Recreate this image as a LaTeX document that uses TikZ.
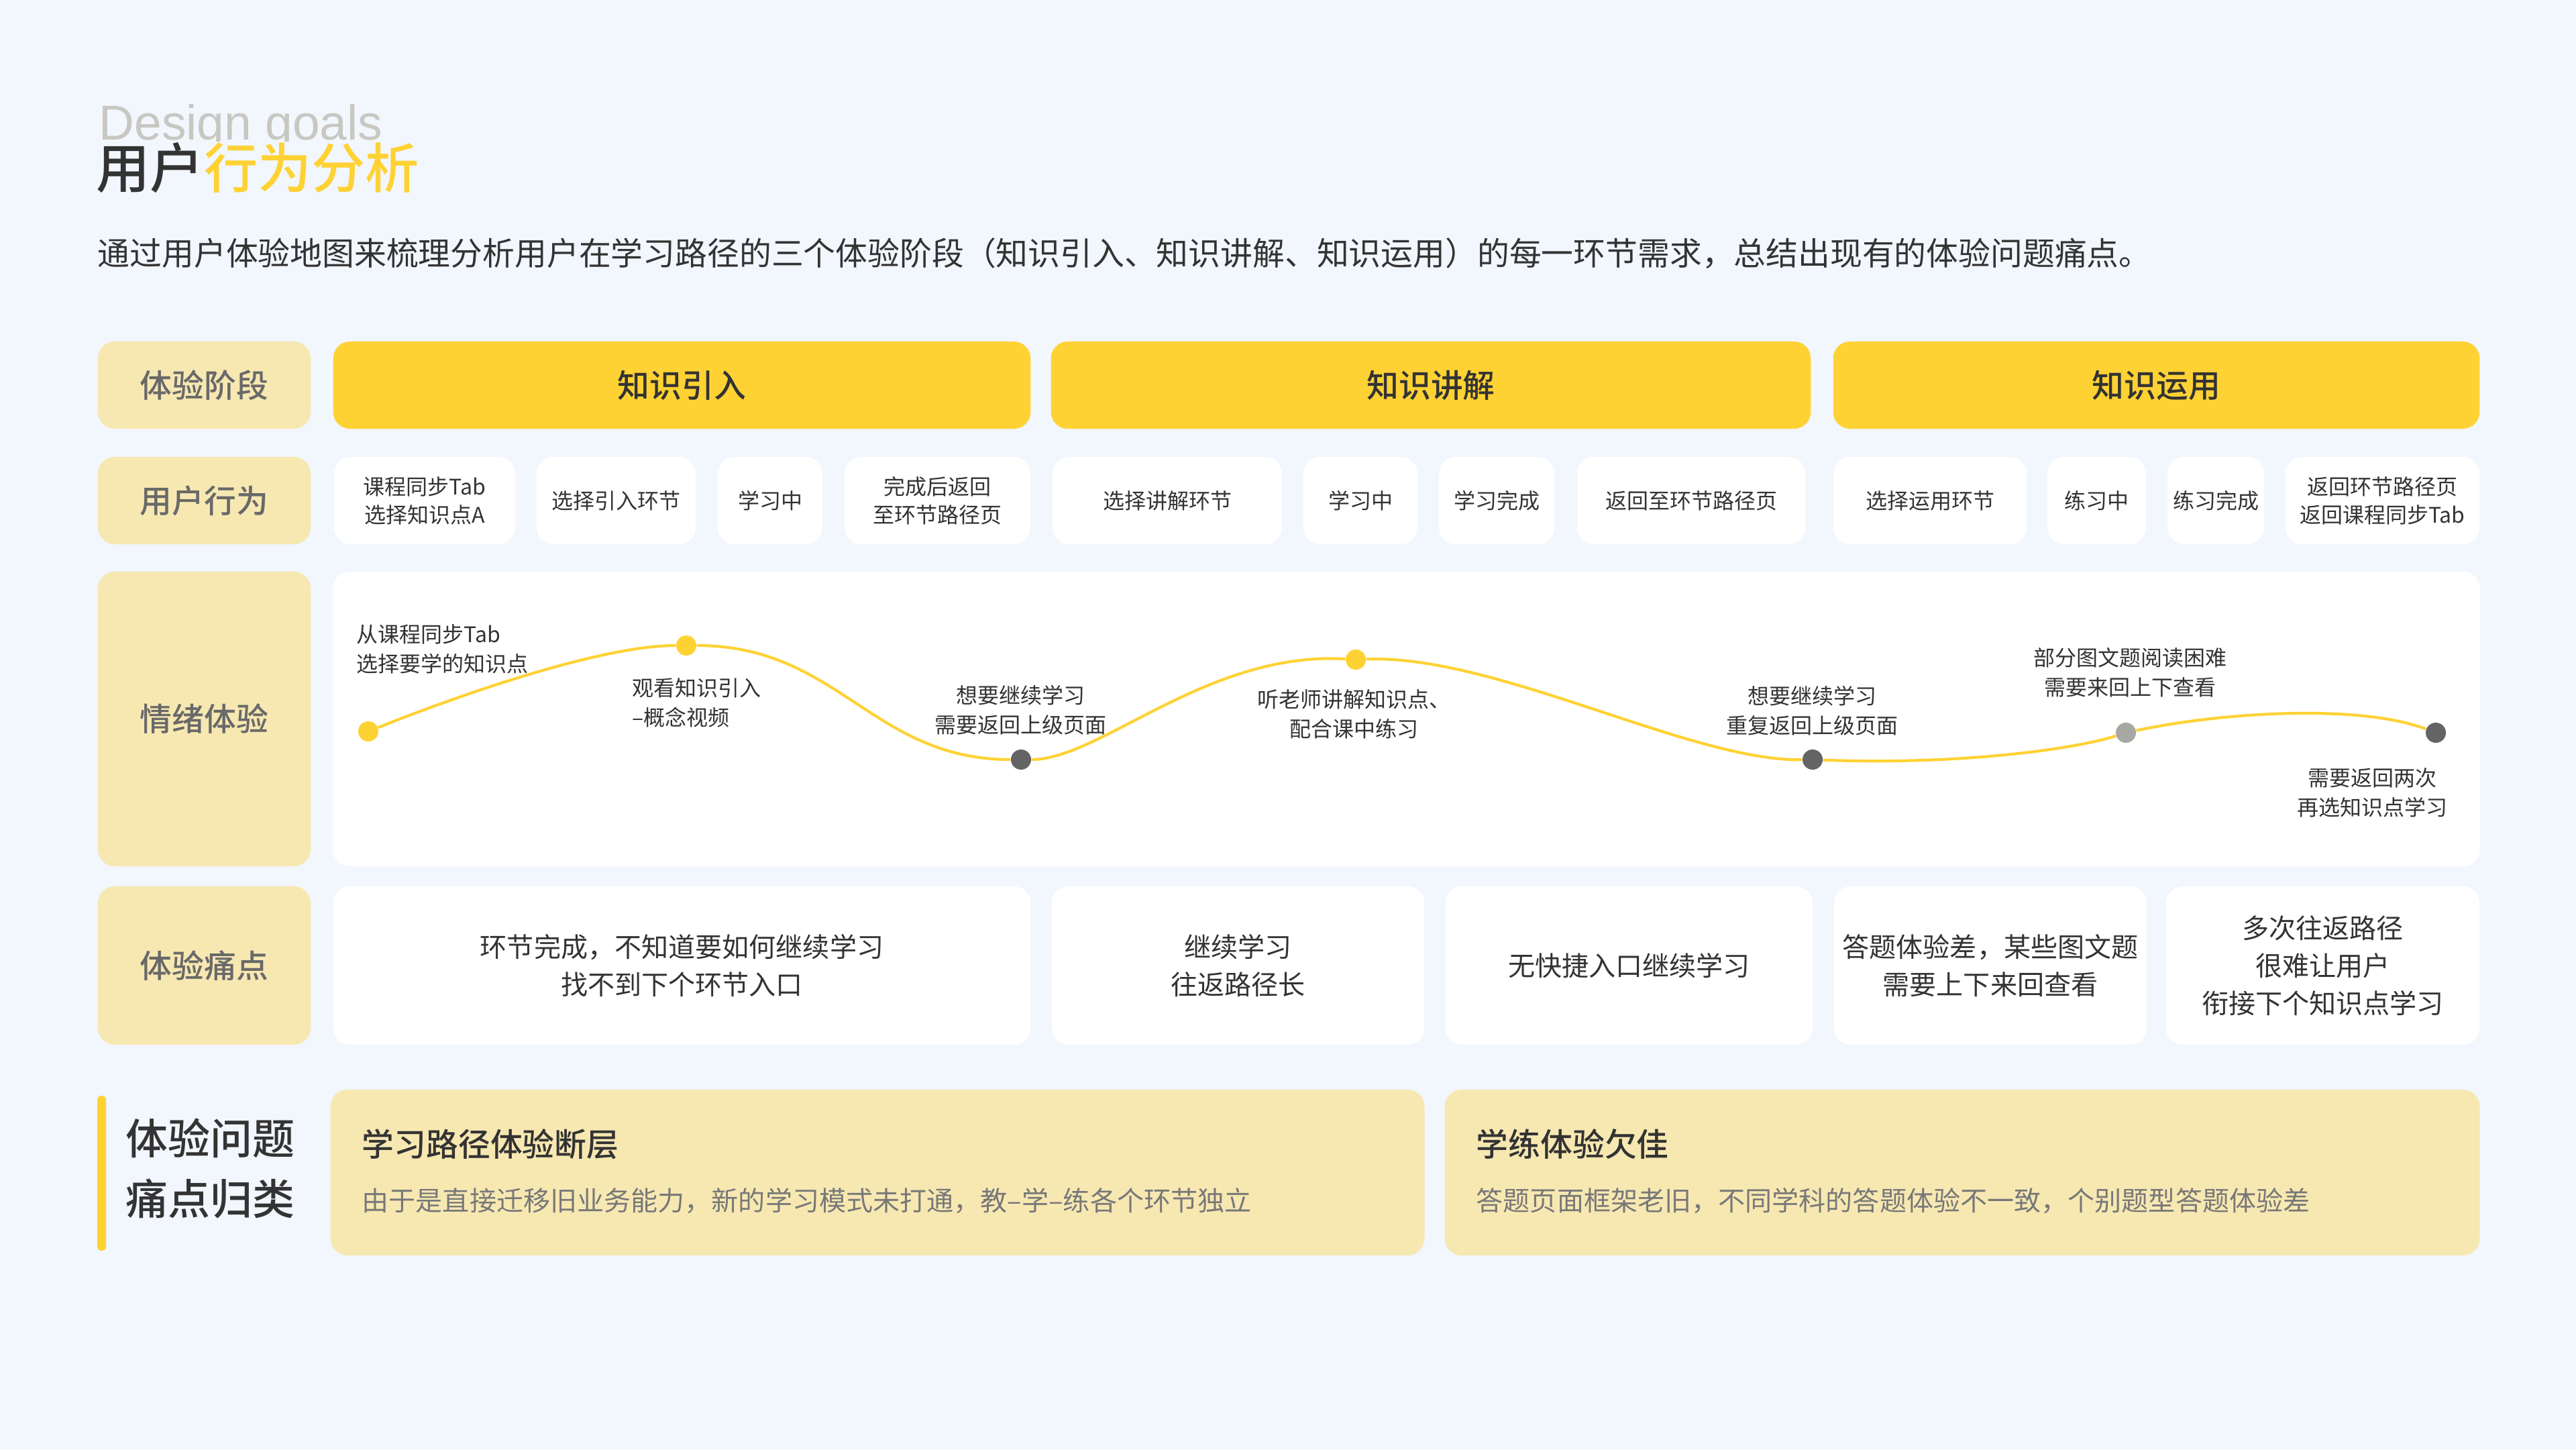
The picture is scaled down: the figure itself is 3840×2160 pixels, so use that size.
\documentclass[tikz,border=0pt]{standalone}
\usepackage{fontspec}
\setmainfont{Noto Sans CJK SC}
\newfontfamily\mdfont{Noto Sans CJK SC Medium}
\newfontfamily\latinsans{Liberation Sans}
\definecolor{bgc}{RGB}{242,246,253}
\definecolor{ylw}{RGB}{255,210,52}
\definecolor{lyw}{RGB}{247,232,178}
\definecolor{txt}{RGB}{51,51,51}
\definecolor{lbl}{RGB}{105,105,105}
\definecolor{desc}{RGB}{120,120,120}
\definecolor{dotdark}{RGB}{100,100,100}
\definecolor{dotgray}{RGB}{168,168,162}
\definecolor{ghost}{RGB}{200,199,194}
\begin{document}
\begin{tikzpicture}[x=0.01cm,y=-0.01cm,
  box/.style={rounded corners=0.25cm, inner sep=0pt, align=center, text=txt},
  lblbox/.style={box, fill=lyw, text=lbl, minimum width=3.17cm, font=\mdfont\fontsize{13.6}{16}\selectfont},
  stagebox/.style={box, fill=ylw, minimum height=1.30cm, font=\mdfont\fontsize{13.6}{16}\selectfont},
  actbox/.style={box, fill=white, minimum height=1.30cm, font=\fontsize{9.1}{11.95}\selectfont},
  painbox/.style={box, fill=white, minimum height=2.36cm, font=\fontsize{11.4}{15.9}\selectfont},
  sumbox/.style={box, fill=lyw, minimum height=2.47cm},
  emo/.style={inner sep=0pt, align=center, text=txt, font=\fontsize{9.1}{12.5}\selectfont},
  dot/.style={circle, inner sep=0pt, minimum size=0.3cm},
  curve/.style={draw=ylw, line width=1.2pt}]
\fill[bgc] (0,0) rectangle (3840,2160);
\useasboundingbox (0,0) rectangle (3840,2160);

% heading
\begin{scope}
\clip (0,100) rectangle (3840,210);
\node[anchor=base west, inner sep=0pt, text=ghost, font=\latinsans\fontsize{20.8}{24}\selectfont] (ghost) at (147,208) {Design goals};
\end{scope}
\node[anchor=west, inner sep=0pt, font=\mdfont\fontsize{22.8}{26}\selectfont] (title) at (143,250) {\textcolor{txt}{用户}\textcolor{ylw}{行为分析}};
\node[anchor=west, inner sep=0pt, text=txt, font=\fontsize{13.6}{16}\selectfont] (sub) at (145,378) {通过用户体验地图来梳理分析用户在学习路径的三个体验阶段（知识引入、知识讲解、知识运用）的每一环节需求，总结出现有的体验问题痛点。};

% row 1
\node[lblbox, minimum height=1.30cm] (l1) at (304.5,574) {体验阶段};
\node[stagebox, minimum width=10.39cm] (s1) at (1016.5,574) {知识引入};
\node[stagebox, minimum width=11.32cm] (s2) at (2133,574) {知识讲解};
\node[stagebox, minimum width=9.63cm] (s3) at (3214.5,574) {知识运用};

% row 2
\node[lblbox, minimum height=1.30cm] (l2) at (304.5,746) {用户行为};
\node[actbox, minimum width=2.70cm] (b1) at (633,746) {课程同步Tab\\选择知识点A};
\node[actbox, minimum width=2.37cm] (b2) at (918.5,746) {选择引入环节};
\node[actbox, minimum width=1.56cm] (b3) at (1148,746) {学习中};
\node[actbox, minimum width=2.77cm] (b4) at (1397.5,746) {完成后返回\\至环节路径页};
\node[actbox, minimum width=3.42cm] (b5) at (1740,746) {选择讲解环节};
\node[actbox, minimum width=1.70cm] (b6) at (2028,746) {学习中};
\node[actbox, minimum width=1.72cm] (b7) at (2231,746) {学习完成};
\node[actbox, minimum width=3.40cm] (b8) at (2521,746) {返回至环节路径页};
\node[actbox, minimum width=2.88cm] (b9) at (2877,746) {选择运用环节};
\node[actbox, minimum width=1.47cm] (b10) at (3125.5,746) {练习中};
\node[actbox, minimum width=1.44cm] (b11) at (3303,746) {练习完成};
\node[actbox, minimum width=2.89cm] (b12) at (3551.5,746) {返回环节路径页\\返回课程同步Tab};

% row 3
\node[lblbox, minimum height=4.39cm] (l3) at (304.5,1071.5) {情绪体验};
\node[box, fill=white, minimum width=31.99cm, minimum height=4.39cm] (emobox) at (2096.5,1071.5) {};

\node[dot, fill=ylw] (d1) at (549,1090) {};
\node[dot, fill=ylw] (d2) at (1023,962) {};
\node[dot, fill=dotdark] (d3) at (1522,1132) {};
\node[dot, fill=ylw] (d4) at (2021,983) {};
\node[dot, fill=dotdark] (d5) at (2702,1132) {};
\node[dot, fill=dotgray] (d6) at (3169,1092) {};
\node[dot, fill=dotdark] (d7) at (3631,1092) {};

\draw[curve] (d1) .. controls (700,1030) and (900,962) .. (d2);
\draw[curve] (d2) .. controls (1250,962) and (1300,1132) .. (d3);
\draw[curve] (d3) .. controls (1640,1132) and (1800,970) .. (d4);
\draw[curve] (d4) .. controls (2230,975) and (2520,1135) .. (d5);
\draw[curve] (d5) .. controls (2900,1140) and (3080,1120) .. (d6);
\draw[curve] (d6) .. controls (3320,1060) and (3520,1050) .. (d7);

\node[emo, anchor=west, align=left] (t1) at (531,967) {从课程同步Tab\\选择要学的知识点};
\node[emo, anchor=west, align=left] (t2) at (942,1047) {观看知识引入\\–概念视频};
\node[emo] (t3) at (1521,1058) {想要继续学习\\需要返回上级页面};
\node[emo] (t4) at (2018,1064) {听老师讲解知识点、\\配合课中练习};
\node[emo] (t5) at (2701,1059) {想要继续学习\\重复返回上级页面};
\node[emo] (t6) at (3175,1002) {部分图文题阅读困难\\需要来回上下查看};
\node[emo] (t7) at (3536,1181) {需要返回两次\\再选知识点学习};

% row 4
\node[lblbox, minimum height=2.36cm] (l4) at (304.5,1439) {体验痛点};
\node[painbox, minimum width=10.39cm] (p1) at (1016.5,1439) {环节完成，不知道要如何继续学习\\找不到下个环节入口};
\node[painbox, minimum width=5.55cm] (p2) at (1845.5,1439) {继续学习\\往返路径长};
\node[painbox, minimum width=5.47cm] (p3) at (2428.5,1439) {无快捷入口继续学习};
\node[painbox, minimum width=4.66cm] (p4) at (2967,1439) {答题体验差，某些图文题\\需要上下来回查看};
\node[painbox, minimum width=4.67cm] (p5) at (3462.5,1439) {多次往返路径\\很难让用户\\衔接下个知识点学习};

% row 5
\fill[ylw, rounded corners=0.06cm] (145,1633) rectangle (158,1864);
\node[anchor=west, inner sep=0pt, align=left, text=txt, font=\mdfont\fontsize{17.9}{25.6}\selectfont] (sumlbl) at (187,1741) {体验问题\\痛点归类};
\node[sumbox, minimum width=16.30cm] (q1) at (1308,1747.5) {};
\node[sumbox, minimum width=15.42cm] (q2) at (2925,1747.5) {};
\node[anchor=west, inner sep=0pt, text=txt, font=\mdfont\fontsize{13.6}{16}\selectfont] (q1t) at (539,1705) {学习路径体验断层};
\node[anchor=west, inner sep=0pt, text=desc, font=\fontsize{11.4}{14}\selectfont] (q1d) at (539,1790) {由于是直接迁移旧业务能力，新的学习模式未打通，教–学–练各个环节独立};
\node[anchor=west, inner sep=0pt, text=txt, font=\mdfont\fontsize{13.6}{16}\selectfont] (q2t) at (2200,1705) {学练体验欠佳};
\node[anchor=west, inner sep=0pt, text=desc, font=\fontsize{11.4}{14}\selectfont] (q2d) at (2200,1790) {答题页面框架老旧，不同学科的答题体验不一致，个别题型答题体验差};
\end{tikzpicture}
\end{document}
